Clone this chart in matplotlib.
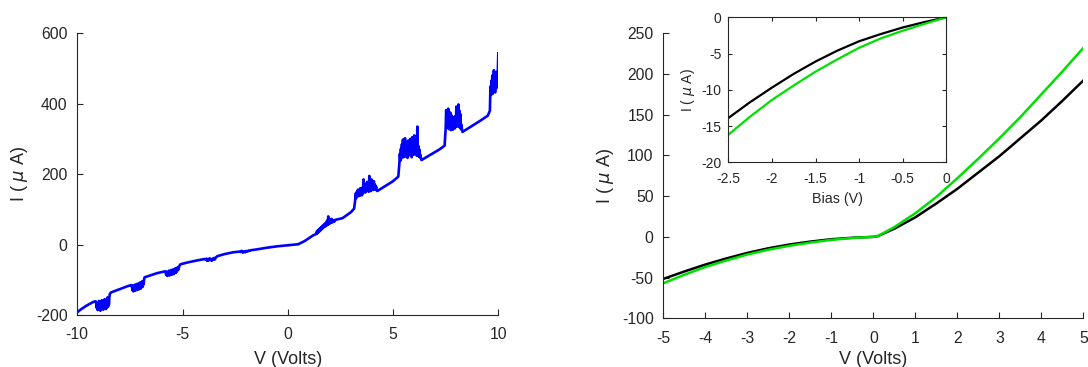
import matplotlib
matplotlib.use("Agg")
import matplotlib.pyplot as plt
import numpy as np

plt.rcParams['font.family'] = ['Liberation Sans', 'DejaVu Sans']
plt.rcParams['axes.unicode_minus'] = False

# left panel: quiet parts of the sweep (V, uA)
quiet_v = [-10, -9.8, -9.6, -9.4, -9.2, -9.12,
           -8.4, -8.0, -7.6, -7.42,
           -6.5, -6.2, -5.9, -5.82,
           -4.7, -4.3, -3.95,
           -3.0, -2.6, -2.3,
           -1.5, -1.0, -0.5, 0, 0.3, 0.5, 0.8, 1.0, 1.2,
           2.6, 3.0, 3.15,
           4.6, 5.0, 5.25,
           6.8, 7.2, 7.45,
           8.7, 9.1, 9.5]
quiet_i = [-192, -183, -175, -168, -162, -161,
           -136, -127, -118, -115,
           -87, -81, -77, -76,
           -50, -45, -41,
           -27, -22, -20,
           -14, -9, -5, -2, -0.5, 1, 10, 18, 26,
           75, 92, 102,
           165, 180, 193,
           256, 270, 281,
           335, 350, 366]

# noisy bursts: (V start, V end) and the current samples across each
burst_ranges = [(-9.1, -8.45), (-7.4, -6.8), (-5.8, -5.1), (-3.9, -3.35),
                (-2.25, -1.75), (1.35, 2.25), (3.2, 4.25), (5.3, 6.35),
                (7.5, 8.3), (9.6, 10.0)]
burst_a = [-165, -180, -168, -186, -172, -183, -160, -178, -170, -188, -165, -181,
           -158, -176, -169, -185, -162, -179, -155, -174, -166, -183, -158, -172,
           -150, -177, -160, -170, -148, -140]
burst_b = [-120, -130, -117, -133, -122, -128, -114, -131, -119, -126, -112, -129,
           -116, -124, -110, -127, -113, -122, -107, -125, -111, -118, -104, -120,
           -106, -112, -98, -93]
burst_c = [-80, -86, -77, -89, -81, -85, -74, -88, -79, -83, -72, -86, -76, -81,
           -70, -84, -74, -78, -67, -80, -71, -75, -64, -72, -66, -62, -58, -56]
burst_d = [-43, -40, -46, -41, -45, -39, -44, -41, -46, -40, -43, -38, -42, -37,
           -35, -33]
burst_e = [-21, -18, -23, -19, -22, -18, -20, -17, -18, -16]
burst_f = [30, 37, 32, 41, 35, 44, 38, 47, 41, 50, 44, 53, 47, 56, 50, 59, 52, 62,
           54, 68, 56, 80, 58, 72, 60, 70, 62, 73, 63, 69, 65, 68, 66, 70]
burst_g = [125, 145, 132, 150, 136, 156, 140, 148, 138, 160, 142, 152, 140, 163,
           146, 185, 150, 165, 148, 170, 152, 178, 155, 168, 150, 195, 158, 172,
           152, 185, 160, 176, 155, 180, 158, 170, 156, 165, 154, 152]
burst_h = [230, 258, 238, 272, 245, 285, 250, 298, 248, 280, 255, 302, 250, 290,
           258, 276, 246, 295, 252, 285, 260, 300, 255, 282, 248, 305, 262, 290,
           255, 310, 258, 288, 262, 298, 252, 335, 260, 280, 250, 270, 248, 255,
           245, 240]
burst_i = [330, 382, 340, 370, 335, 386, 328, 360, 338, 375, 325, 368, 332, 355,
           326, 362, 335, 350, 330, 365, 340, 392, 335, 375, 345, 398, 335, 380,
           332, 370, 328, 340, 325, 320]
burst_j = [380, 430, 450, 425, 465, 435, 480, 428, 470, 445, 495, 440, 485, 432,
           478, 450, 490, 445, 480, 470, 500, 543]
bursts = [burst_a, burst_b, burst_c, burst_d, burst_e, burst_f, burst_g,
          burst_h, burst_i, burst_j]

# right panel: two samples
bias_v = [-5, -4.5, -4, -3.5, -3, -2.5, -2, -1.5, -1, -0.5, 0, 0.1,
          0.5, 1, 1.5, 2, 2.5, 3, 3.5, 4, 4.5, 5]
black_i = [-51.6, -42.5, -34, -26.5, -19.7, -14, -9.4, -5.8, -2.9, -1.1, 0, 0.8,
           10, 24, 41, 59, 79, 99, 121, 143, 167, 192]
green_i = [-57, -46.5, -37, -29, -21.7, -15.8, -11, -7, -3.7, -1.4, 0, 0.8,
           12, 29, 49, 72, 96, 121, 147, 175, 203, 232]

# inset: negative bias zoom
inset_v = [-2.5, -2.25, -2.0, -1.75, -1.5, -1.25, -1.0, -0.75, -0.5, -0.25, 0]
inset_black = [-13.9, -11.7, -9.7, -7.8, -6.1, -4.6, -3.3, -2.3, -1.4, -0.65, 0]
inset_green = [-16.2, -13.7, -11.4, -9.4, -7.5, -5.8, -4.2, -2.9, -1.85, -0.9, 0]

ink = '#262626'


def build_sweep():
    v = list(quiet_v)
    i = list(quiet_i)
    for (v0, v1), vals in zip(burst_ranges, bursts):
        v += list(np.linspace(v0, v1, len(vals)))
        i += vals
    order = np.argsort(v, kind='stable')
    return np.array(v)[order], np.array(i)[order]


def style_axes(ax, fs, box=False, length=4):
    for s in ['left', 'bottom', 'top', 'right']:
        ax.spines[s].set_color(ink)
        ax.spines[s].set_linewidth(0.8)
    if not box:
        ax.spines['top'].set_visible(False)
        ax.spines['right'].set_visible(False)
    ax.tick_params(direction='in', length=length, width=0.8, colors=ink,
                   labelsize=fs, top=box, right=box)


fig = plt.figure(figsize=(10.88, 3.67), dpi=100)

sv, si = build_sweep()
ax1 = fig.add_axes([0.0710, 0.1417, 0.387, 0.7676])
ax1.plot(sv, si, color='#0000ff', lw=1.9)
ax1.set_xlim(-10, 10)
ax1.set_ylim(-200, 600)
ax1.set_xticks([-10, -5, 0, 5, 10])
ax1.set_yticks([-200, 0, 200, 400, 600])
style_axes(ax1, 11.3)
ax1.tick_params(axis='x', pad=9)
ax1.tick_params(axis='y', pad=7)
ax1.set_xlabel('V (Volts)', fontsize=13, color=ink, labelpad=6)
ax1.set_ylabel(r'I ( $\mu$ A)', fontsize=13, color=ink, labelpad=4)

ax2 = fig.add_axes([0.6097, 0.1327, 0.386, 0.7766])
ax2.plot(bias_v, black_i, color='black', lw=1.8)
ax2.plot(bias_v, green_i, color='#00e000', lw=1.8)
ax2.set_xlim(-5, 5)
ax2.set_ylim(-100, 250)
ax2.set_xticks(range(-5, 6))
ax2.set_yticks(range(-100, 251, 50))
style_axes(ax2, 11.3)
ax2.tick_params(axis='x', pad=9)
ax2.tick_params(axis='y', pad=7)
ax2.set_xlabel('V (Volts)', fontsize=13, color=ink, labelpad=4)
ax2.set_ylabel(r'I ( $\mu$ A)', fontsize=13, color=ink, labelpad=4)

ax3 = fig.add_axes([0.6694, 0.5578, 0.2004, 0.395])
ax3.plot(inset_v, inset_black, color='black', lw=1.6)
ax3.plot(inset_v, inset_green, color='#00e000', lw=1.6)
ax3.set_xlim(-2.5, 0)
ax3.set_ylim(-20, 0)
ax3.set_xticks([-2.5, -2, -1.5, -1, -0.5, 0])
ax3.set_xticklabels(['-2.5', '-2', '-1.5', '-1', '-0.5', '0'])
ax3.set_yticks([-20, -15, -10, -5, 0])
style_axes(ax3, 10, box=True, length=3)
ax3.tick_params(axis='x', pad=7)
ax3.tick_params(axis='y', pad=5)
ax3.set_xlabel('Bias (V)', fontsize=10.3, color=ink, labelpad=4)
ax3.set_ylabel(r'I ( $\mu$ A)', fontsize=10, color=ink, labelpad=3)

fig.savefig('out.png', dpi=100)
